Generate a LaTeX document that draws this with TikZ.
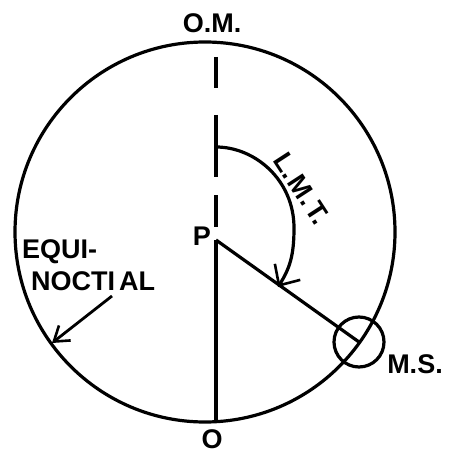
\documentclass[tikz,border=0pt]{standalone}
\usepackage{fontspec}
\setmainfont{Liberation Sans}
\usetikzlibrary{arrows.meta}
\begin{document}
\begin{tikzpicture}[x=1pt,y=-1pt,
  ln/.style={line width=3.2pt},
  lab/.style={font=\bfseries\fontsize{27}{30}\selectfont, inner sep=0pt},
  barb/.style={-{Straight Barb[length=14pt,width=19pt,line width=2.6pt]}, line width=2.8pt}]
\useasboundingbox (0,0) rectangle (449,454);
\coordinate (C) at (205,232);
\draw[ln] (C) circle[radius=190];
\coordinate (top) at (216,57);
\coordinate (dashend) at (216,227);
\coordinate (P) at (216,240);
\coordinate (bot) at (216,422);
\node[ln, draw, circle, minimum size=50pt, inner sep=0pt] (ms) at (359,342) {};
\draw[ln, dash pattern=on 31pt off 27pt on 62pt off 18pt on 32pt off 40pt] (top) -- (dashend);
\draw[ln] (P) -- (bot);
\draw[ln] (P) -- (ms.center);
\node[lab] (om) at (212,23) {O.M.};
\node[lab] (o) at (212,439) {O};
\node[lab] (p) at (202,236) {P};
\node[lab] (msl) at (415,364) {M.S.};
\node[lab, anchor=base west] (eq1) at (22,258) {EQUI-};
\node[lab, anchor=base west] (eq2) at (31,290) {NOCTI\kern4pt AL};
\coordinate (eqstart) at (112,296);
\coordinate (eqtip) at (52,343);
\draw[barb] (eqstart) -- (eqtip);
\coordinate (lmtstart) at (216,147);
\coordinate (lmttip) at (278,287);
\draw[ln, -{Straight Barb[length=16pt,width=30pt,line width=2.6pt]}] (lmtstart) .. controls (255,147) and (294,180) .. (294,228) .. controls (294,255) and (290,268) .. (lmttip);
\node[lab, rotate=-57] (lmt) at (302,189) {L.\kern2pt M.\kern2pt T.};
\end{tikzpicture}
\end{document}
